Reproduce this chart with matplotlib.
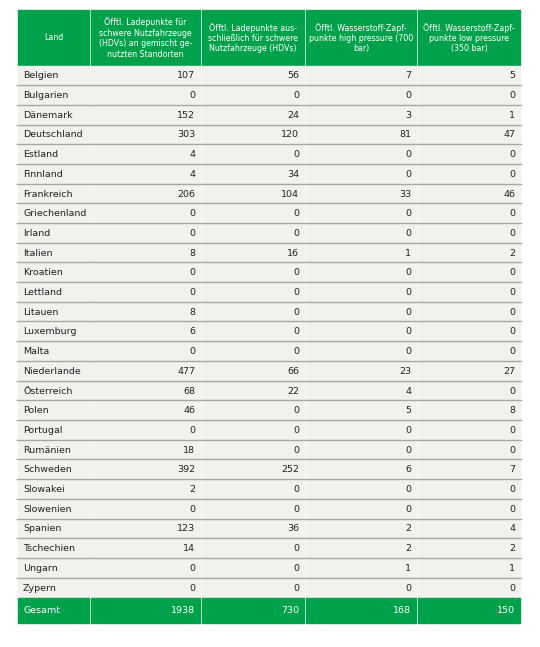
import matplotlib.pyplot as plt
from matplotlib.patches import Rectangle

headers = ["Land",
           "Öfftl. Ladepunkte für\nschwere Nutzfahrzeuge\n(HDVs) an gemischt ge-\nnutzten Standorten",
           "Öfftl. Ladepunkte aus-\nschließlich für schwere\nNutzfahrzeuge (HDVs)",
           "Öfftl. Wasserstoff-Zapf-\npunkte high pressure (700\nbar)",
           "Öfftl. Wasserstoff-Zapf-\npunkte low pressure\n(350 bar)"]
laender = ["Belgien", "Bulgarien", "Dänemark", "Deutschland", "Estland", "Finnland",
           "Frankreich", "Griechenland", "Irland", "Italien", "Kroatien", "Lettland",
           "Litauen", "Luxemburg", "Malta", "Niederlande", "Österreich", "Polen",
           "Portugal", "Rumänien", "Schweden", "Slowakei", "Slowenien", "Spanien",
           "Tschechien", "Ungarn", "Zypern"]
lade_gemischt = [107, 0, 152, 303, 4, 4, 206, 0, 0, 8, 0, 0, 8, 6, 0, 477, 68, 46, 0, 18, 392, 2, 0, 123, 14, 0, 0]
lade_hdv = [56, 0, 24, 120, 0, 34, 104, 0, 0, 16, 0, 0, 0, 0, 0, 66, 22, 0, 0, 0, 252, 0, 0, 36, 0, 0, 0]
h2_700 = [7, 0, 3, 81, 0, 0, 33, 0, 0, 1, 0, 0, 0, 0, 0, 23, 4, 5, 0, 0, 6, 0, 0, 2, 2, 1, 0]
h2_350 = [5, 0, 1, 47, 0, 0, 46, 0, 0, 2, 0, 0, 0, 0, 0, 27, 0, 8, 0, 0, 7, 0, 0, 4, 2, 1, 0]
gesamt = [1938, 730, 168, 150]

green = "#00a14b"
cell = "#f1f1ee"
W, H = 540, 647
fig = plt.figure(figsize=(5.4, 6.47), dpi=100)
ax = fig.add_axes([0, 0, 1, 1])
ax.set_xlim(0, W)
ax.set_ylim(H, 0)
ax.axis("off")

cols = [17, 90, 201, 305, 417, 521]
top, hdr_bot, row_h = 10, 66, 19.7
gap = 1.5

# header
for i in range(5):
    ax.add_patch(Rectangle((cols[i] + gap / 2, top), cols[i + 1] - cols[i] - gap, hdr_bot - top - gap, color=green))
    ax.text((cols[i] + cols[i + 1]) / 2, (top + hdr_bot) / 2, headers[i], color="white",
            fontsize=5.7, ha="center", va="center", linespacing=1.2)

columns = [lade_gemischt, lade_hdv, h2_700, h2_350]
for r, land in enumerate(laender):
    y0 = hdr_bot + r * row_h
    for i in range(5):
        ax.add_patch(Rectangle((cols[i] + gap / 2, y0), cols[i + 1] - cols[i] - gap, row_h - 1.2, color=cell))
    if r < len(laender) - 1:
        ax.plot([cols[0], cols[-1]], [y0 + row_h - 0.6] * 2, color="#a8a8a2", lw=1)
    yc = y0 + row_h / 2
    ax.text(cols[0] + 6, yc, land, fontsize=6.8, va="center", color="#222222")
    for i, c in enumerate(columns):
        ax.text(cols[i + 2] - 6, yc, str(c[r]), fontsize=6.8, va="center", ha="right", color="#222222")

y0 = hdr_bot + len(laender) * row_h
gh = 25
for i in range(5):
    ax.add_patch(Rectangle((cols[i] + gap / 2, y0), cols[i + 1] - cols[i] - gap, gh, color=green))
yc = y0 + gh / 2
ax.text(cols[0] + 6, yc, "Gesamt", fontsize=6.8, va="center", color="white")
for i, g in enumerate(gesamt):
    ax.text(cols[i + 2] - 6, yc, str(g), fontsize=6.8, va="center", ha="right", color="white")

fig.savefig("out.png", dpi=100, facecolor="white")
